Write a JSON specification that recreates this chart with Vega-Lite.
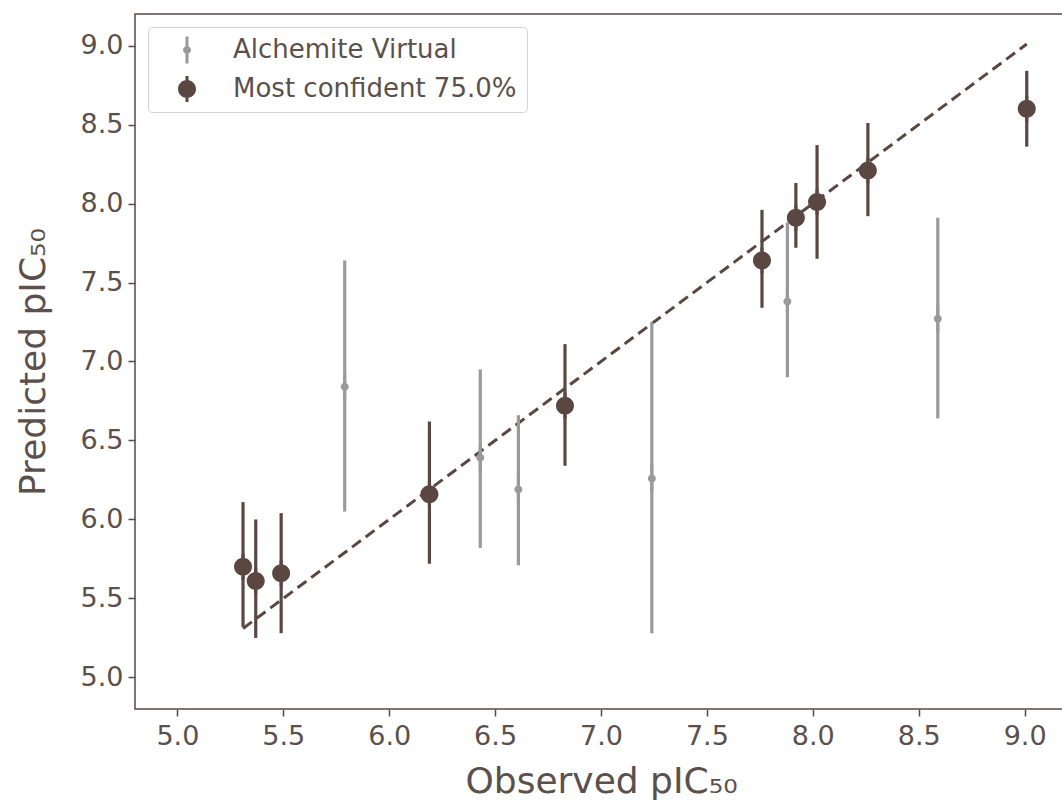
{
  "$schema": "https://vega.github.io/schema/vega-lite/v6.json",
  "width": 932,
  "height": 695,
  "autosize": {"type": "none"},
  "padding": {"left": 135, "top": 14, "right": 0, "bottom": 94},
  "background": "white",
  "config": {
    "view": {"stroke": "#5b4a44", "strokeWidth": 1.5},
    "font": "DejaVu Sans",
    "axis": {
      "grid": false,
      "domain": false,
      "tickColor": "#5b4a44",
      "tickSize": 7,
      "tickWidth": 1.5,
      "labelFont": "DejaVu Sans",
      "labelFontSize": 27,
      "labelColor": "#5c504b",
      "labelPadding": 5,
      "titleFont": "DejaVu Sans",
      "titleFontSize": 36,
      "titleFontWeight": "normal",
      "titleColor": "#5c504b"
    },
    "legend": {
      "orient": "top-left",
      "offset": 13,
      "padding": 10,
      "strokeColor": "#d4d4d4",
      "fillColor": "white",
      "cornerRadius": 4,
      "labelFont": "DejaVu Sans",
      "labelFontSize": 26,
      "labelColor": "#5c504b",
      "labelLimit": 500,
      "labelOffset": 33,
      "symbolOffset": 16,
      "rowPadding": 12,
      "symbolStrokeWidth": 0
    }
  },
  "datasets": {
    "pts": [
      {"series": "Alchemite Virtual", "obs": 5.79, "pred": 6.84, "lo": 6.05, "hi": 7.64},
      {"series": "Alchemite Virtual", "obs": 6.43, "pred": 6.39, "lo": 5.82, "hi": 6.95},
      {"series": "Alchemite Virtual", "obs": 6.61, "pred": 6.19, "lo": 5.71, "hi": 6.66},
      {"series": "Alchemite Virtual", "obs": 7.24, "pred": 6.26, "lo": 5.28, "hi": 7.25},
      {"series": "Alchemite Virtual", "obs": 7.88, "pred": 7.38, "lo": 6.90, "hi": 7.88},
      {"series": "Alchemite Virtual", "obs": 8.59, "pred": 7.27, "lo": 6.64, "hi": 7.91},
      {"series": "Most confident 75.0%", "obs": 5.31, "pred": 5.70, "lo": 5.32, "hi": 6.11},
      {"series": "Most confident 75.0%", "obs": 5.37, "pred": 5.61, "lo": 5.25, "hi": 6.00},
      {"series": "Most confident 75.0%", "obs": 5.49, "pred": 5.66, "lo": 5.28, "hi": 6.04},
      {"series": "Most confident 75.0%", "obs": 6.19, "pred": 6.16, "lo": 5.72, "hi": 6.62},
      {"series": "Most confident 75.0%", "obs": 6.83, "pred": 6.72, "lo": 6.34, "hi": 7.11},
      {"series": "Most confident 75.0%", "obs": 7.76, "pred": 7.64, "lo": 7.34, "hi": 7.96},
      {"series": "Most confident 75.0%", "obs": 7.92, "pred": 7.91, "lo": 7.72, "hi": 8.13},
      {"series": "Most confident 75.0%", "obs": 8.02, "pred": 8.01, "lo": 7.65, "hi": 8.37},
      {"series": "Most confident 75.0%", "obs": 8.26, "pred": 8.21, "lo": 7.92, "hi": 8.51},
      {"series": "Most confident 75.0%", "obs": 9.01, "pred": 8.60, "lo": 8.36, "hi": 8.84}
    ],
    "diag": [
      {"obs": 5.31, "pred": 5.31},
      {"obs": 9.01, "pred": 9.01}
    ]
  },
  "layer": [
    {
      "data": {"name": "diag"},
      "mark": {"type": "line", "color": "#5b4741", "strokeWidth": 3, "strokeDash": [11, 6]},
      "encoding": {
        "x": {"field": "obs", "type": "quantitative", "scale": {"domain": [4.8, 9.2], "nice": false, "zero": false},
          "axis": {"values": [5, 5.5, 6, 6.5, 7, 7.5, 8, 8.5, 9], "format": ".1f", "title": "Observed pIC₅₀", "titlePadding": 15, "labelPadding": 7}},
        "y": {"field": "pred", "type": "quantitative", "scale": {"domain": [4.8, 9.2], "nice": false, "zero": false},
          "axis": {"values": [5, 5.5, 6, 6.5, 7, 7.5, 8, 8.5, 9], "format": ".1f", "title": "Predicted pIC₅₀", "titlePadding": 28}}
      }
    },
    {
      "data": {"name": "pts"},
      "mark": {"type": "rule", "strokeWidth": 3.2},
      "encoding": {
        "x": {"field": "obs", "type": "quantitative"},
        "y": {"field": "lo", "type": "quantitative"},
        "y2": {"field": "hi"},
        "color": {"condition": {"test": "datum.series === 'Alchemite Virtual'", "value": "#9a9a9a"}, "value": "#5b4741"}
      }
    },
    {
      "data": {"name": "pts"},
      "mark": {"type": "point", "filled": true, "opacity": 1, "strokeWidth": 0},
      "encoding": {
        "x": {"field": "obs", "type": "quantitative"},
        "y": {"field": "pred", "type": "quantitative"},
        "color": {"field": "series", "type": "nominal", "title": null,
          "scale": {"domain": ["Alchemite Virtual", "Most confident 75.0%"], "range": ["#9a9a9a", "#5b4741"]}},
        "size": {"field": "series", "type": "nominal", "title": null,
          "scale": {"domain": ["Alchemite Virtual", "Most confident 75.0%"], "range": [64, 324]}},
        "shape": {"field": "series", "type": "nominal", "title": null,
          "scale": {"domain": ["Alchemite Virtual", "Most confident 75.0%"],
            "range": ["M-1,0A1,1,0,1,1,1,0A1,1,0,1,1,-1,0Z M-0.38,-3.4H0.38V3.4H-0.38Z", "M-1,0A1,1,0,1,1,1,0A1,1,0,1,1,-1,0Z M-0.17,-1.44H0.17V1.44H-0.17Z"]}}
      }
    }
  ]
}
